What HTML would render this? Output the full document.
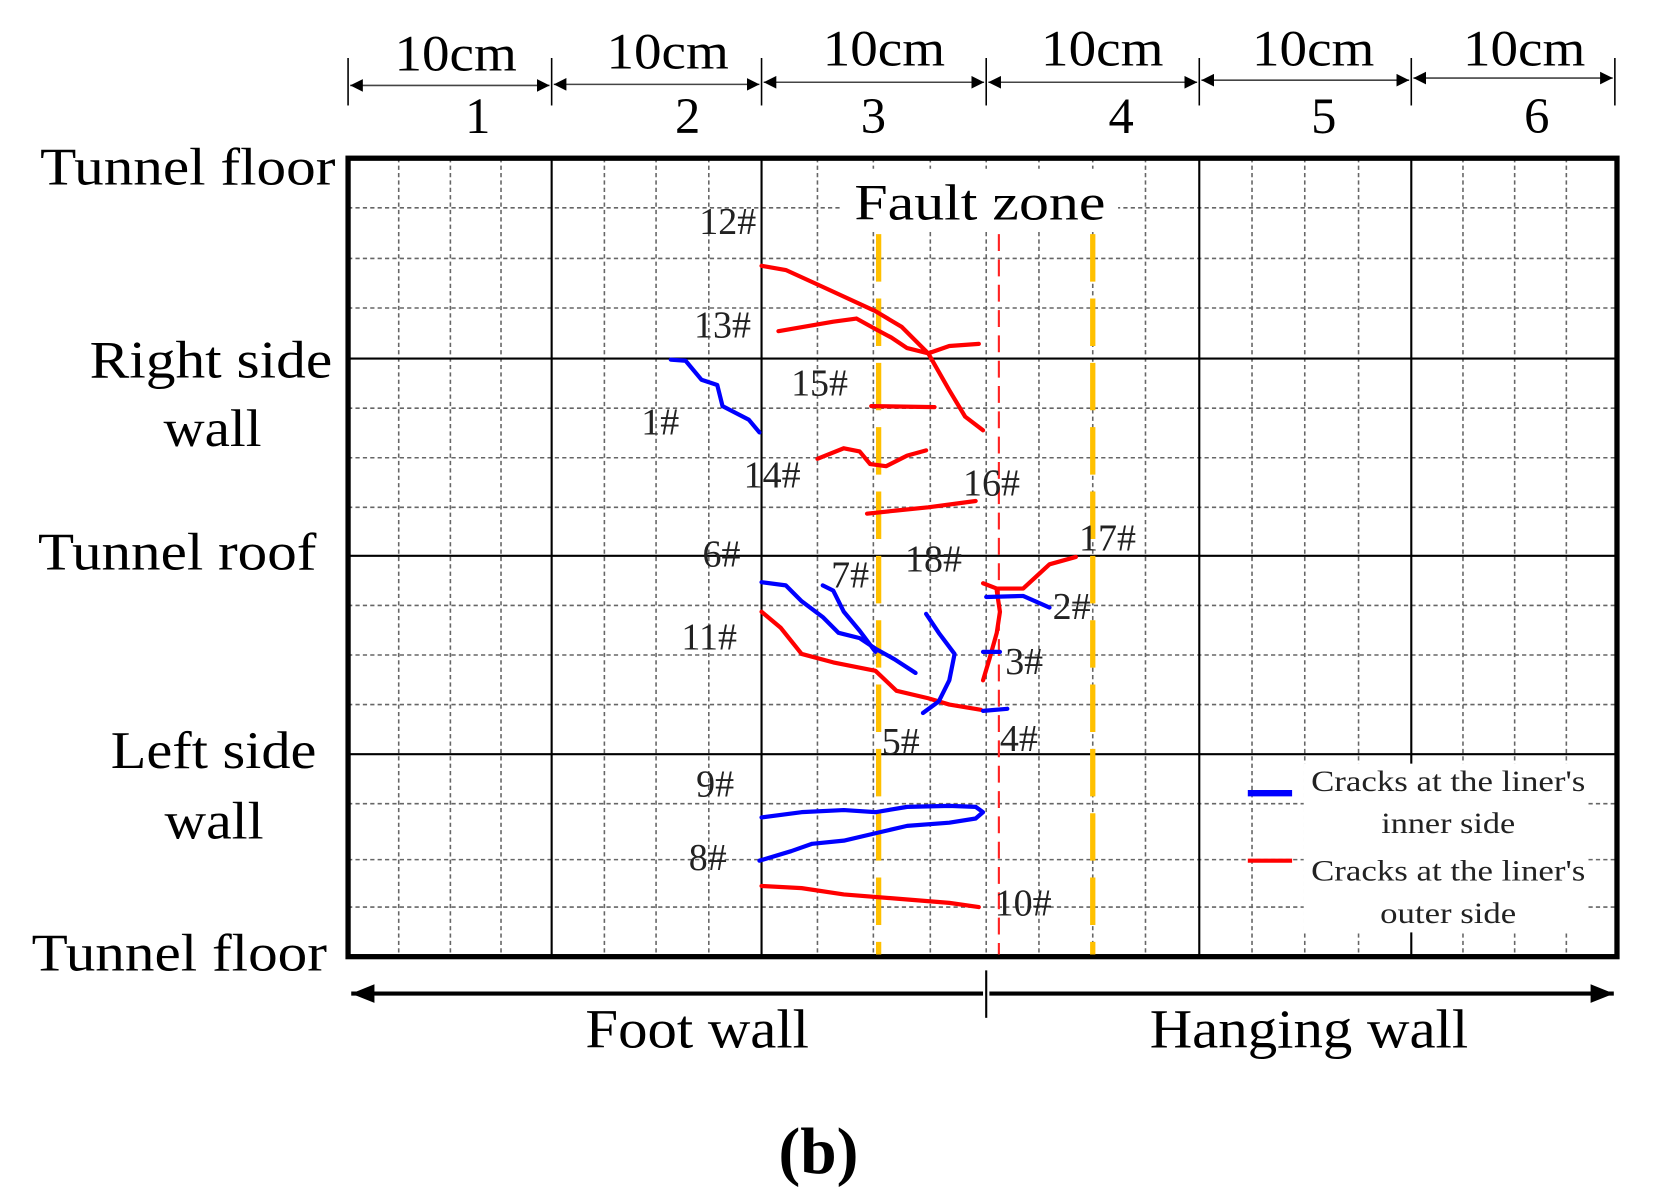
<!DOCTYPE html>
<html><head><meta charset="utf-8"><style>html,body{margin:0;padding:0;background:#fff}svg{display:block}</style></head>
<body>
<svg width="1656" height="1204" viewBox="0 0 1570 1141.5" preserveAspectRatio="none" xmlns="http://www.w3.org/2000/svg" font-family="'Liberation Serif', serif">
<defs>
<marker id="a" viewBox="0 0 10 10" refX="10" refY="5" markerWidth="12" markerHeight="12" markerUnits="userSpaceOnUse" orient="auto-start-reverse"><path d="M0,0L10,5L0,10z" fill="#000"/></marker>
<marker id="b" viewBox="0 0 10 10" refX="10" refY="5" markerWidth="22" markerHeight="22" markerUnits="userSpaceOnUse" orient="auto-start-reverse"><path d="M0,1L10,5L0,9z" fill="#000"/></marker>
</defs>
<g stroke="#000" stroke-width="1.5">
<line x1="330" y1="55" x2="330" y2="100"/><line x1="523" y1="55" x2="523" y2="100"/><line x1="722" y1="55" x2="722" y2="100"/><line x1="935" y1="55" x2="935" y2="100"/><line x1="1137" y1="55" x2="1137" y2="100"/><line x1="1338" y1="55" x2="1338" y2="100"/><line x1="1531" y1="55" x2="1531" y2="100"/>
</g>
<g stroke="#444" stroke-width="1.5" marker-start="url(#a)" marker-end="url(#a)">
<line x1="332" y1="81" x2="521" y2="81"/><line x1="525" y1="80" x2="720" y2="80"/><line x1="724" y1="78" x2="933" y2="78"/><line x1="937" y1="78" x2="1135" y2="78"/><line x1="1139" y1="76" x2="1336" y2="76"/><line x1="1340" y1="74" x2="1529" y2="74"/>
</g>
<g font-size="48" text-anchor="middle">
<text x="432" y="67" textLength="116" lengthAdjust="spacingAndGlyphs">10cm</text><text x="633" y="65" textLength="116" lengthAdjust="spacingAndGlyphs">10cm</text><text x="838" y="62" textLength="116" lengthAdjust="spacingAndGlyphs">10cm</text><text x="1045" y="62" textLength="116" lengthAdjust="spacingAndGlyphs">10cm</text><text x="1245" y="62" textLength="116" lengthAdjust="spacingAndGlyphs">10cm</text><text x="1445" y="62" textLength="116" lengthAdjust="spacingAndGlyphs">10cm</text>
<text x="453" y="126">1</text><text x="652" y="126">2</text><text x="828" y="126">3</text><text x="1063" y="126">4</text><text x="1255" y="126">5</text><text x="1457" y="126">6</text>
</g>
<g stroke="#666" stroke-width="1.5" stroke-dasharray="4 3">
<line x1="378" y1="150" x2="378" y2="907"/><line x1="427" y1="150" x2="427" y2="907"/><line x1="475" y1="150" x2="475" y2="907"/>
<line x1="573" y1="150" x2="573" y2="907"/><line x1="622" y1="150" x2="622" y2="907"/><line x1="672" y1="150" x2="672" y2="907"/>
<line x1="775" y1="150" x2="775" y2="907"/><line x1="828" y1="150" x2="828" y2="907"/><line x1="882" y1="150" x2="882" y2="907"/><line x1="935" y1="150" x2="935" y2="907"/>
<line x1="985" y1="150" x2="985" y2="907"/><line x1="1036" y1="150" x2="1036" y2="907"/><line x1="1086" y1="150" x2="1086" y2="907"/>
<line x1="1187" y1="150" x2="1187" y2="907"/><line x1="1237" y1="150" x2="1237" y2="907"/><line x1="1288" y1="150" x2="1288" y2="907"/>
<line x1="1387" y1="150" x2="1387" y2="907"/><line x1="1436" y1="150" x2="1436" y2="907"/><line x1="1485" y1="150" x2="1485" y2="907"/>
<line x1="330" y1="197" x2="1533" y2="197"/><line x1="330" y1="245" x2="1533" y2="245"/><line x1="330" y1="292" x2="1533" y2="292"/>
<line x1="330" y1="387" x2="1533" y2="387"/><line x1="330" y1="434" x2="1533" y2="434"/><line x1="330" y1="481" x2="1533" y2="481"/>
<line x1="330" y1="574" x2="1533" y2="574"/><line x1="330" y1="621" x2="1533" y2="621"/><line x1="330" y1="668" x2="1533" y2="668"/>
<line x1="330" y1="762" x2="1533" y2="762"/><line x1="330" y1="815" x2="1533" y2="815"/><line x1="330" y1="860" x2="1533" y2="860"/>
</g>
<g stroke="#000" stroke-width="2">
<line x1="523" y1="150" x2="523" y2="907"/><line x1="722" y1="150" x2="722" y2="907"/><line x1="1137" y1="150" x2="1137" y2="907"/><line x1="1338" y1="150" x2="1338" y2="907"/>
<line x1="330" y1="340" x2="1533" y2="340"/><line x1="330" y1="527" x2="1533" y2="527"/><line x1="330" y1="715" x2="1533" y2="715"/>
</g>
<rect x="798" y="160" width="262" height="58" fill="#fff"/>
<rect x="1236" y="724" width="268" height="160" fill="#fff"/>
<rect x="330" y="150" width="1203" height="757" fill="none" stroke="#000" stroke-width="5"/>
<g stroke="#FFC000" stroke-width="5" stroke-dasharray="45 16"><line x1="833" y1="222" x2="833" y2="905"/><line x1="1036" y1="222" x2="1036" y2="905"/></g>
<line x1="947" y1="222" x2="947" y2="905" stroke="#f22" stroke-width="2" stroke-dasharray="16 8"/>
<text x="929" y="208" font-size="48" text-anchor="middle" textLength="238" lengthAdjust="spacingAndGlyphs">Fault zone</text>
<g font-size="50">
<text x="38" y="175" textLength="280" lengthAdjust="spacingAndGlyphs">Tunnel floor</text>
<text x="85" y="358" textLength="230" lengthAdjust="spacingAndGlyphs">Right side</text><text x="155" y="423" textLength="93" lengthAdjust="spacingAndGlyphs">wall</text>
<text x="36" y="540" textLength="264" lengthAdjust="spacingAndGlyphs">Tunnel roof</text>
<text x="105" y="728" textLength="195" lengthAdjust="spacingAndGlyphs">Left side</text><text x="156" y="795" textLength="94" lengthAdjust="spacingAndGlyphs">wall</text>
<text x="30" y="920" textLength="280" lengthAdjust="spacingAndGlyphs">Tunnel floor</text>
</g>
<g fill="none" stroke-width="4" stroke-linejoin="round" stroke-linecap="round">
<g stroke="#f00">
<polyline points="722,252 745,256 780,272 830,295 855,310 880,335 900,370 915,395 932,408"/>
<polyline points="738,314 790,305 812,302 830,312 845,320 860,330 880,335 900,328 928,326"/>
<polyline points="826,385 886,386"/>
<polyline points="775,435 800,425 815,428 825,440 840,442 860,432 878,427"/>
<polyline points="822,487 850,484 880,481 925,475"/>
<polyline points="932,553 945,558 970,558 995,535 1020,528"/>
<polyline points="945,560 948,580 945,600 938,625 932,645"/>
<polyline points="722,580 740,595 760,620 790,628 830,636 850,655 880,662 900,668 930,673"/>
<polyline points="722,840 760,842 800,848 850,852 900,856 928,860"/>
</g>
<g stroke="#00f">
<polyline points="636,341 650,342 665,360 680,365 685,385 710,398 720,410"/>
<polyline points="935,566 970,565 995,576"/>
<polyline points="932,618 948,618"/>
<polyline points="932,674 955,672"/>
<polyline points="722,552 745,555 760,570 780,585 795,600 815,605 830,615 848,625 868,638"/>
<polyline points="780,555 790,560 800,580 815,598 830,618"/>
<polyline points="878,582 890,600 905,620 900,645 890,665 875,676"/>
<polyline points="722,775 760,770 800,768 830,770 860,765 900,764 925,765 932,770 925,776 900,780 860,783 830,790 800,797 770,800 750,807 720,816"/>
</g>
</g>
<g font-size="36" fill="#222">
<text x="663" y="222">12#</text><text x="658" y="320">13#</text><text x="750" y="375">15#</text><text x="608" y="412">1#</text>
<text x="705" y="462">14#</text><text x="913" y="470">16#</text><text x="1023" y="522">17#</text><text x="858" y="542">18#</text>
<text x="666" y="537">6#</text><text x="788" y="557">7#</text><text x="998" y="587">2#</text><text x="646" y="616">11#</text>
<text x="953" y="639">3#</text><text x="836" y="715">5#</text><text x="948" y="712">4#</text><text x="660" y="755">9#</text>
<text x="653" y="825">8#</text><text x="943" y="868">10#</text>
</g>
<line x1="1183" y1="752" x2="1225" y2="752" stroke="#00f" stroke-width="6"/>
<line x1="1183" y1="816" x2="1225" y2="816" stroke="#f00" stroke-width="4"/>
<g font-size="28" text-anchor="middle" fill="#222">
<text x="1373" y="750" textLength="260" lengthAdjust="spacingAndGlyphs">Cracks at the liner's</text><text x="1373" y="790" textLength="127" lengthAdjust="spacingAndGlyphs">inner side</text>
<text x="1373" y="835" textLength="260" lengthAdjust="spacingAndGlyphs">Cracks at the liner's</text><text x="1373" y="875" textLength="129" lengthAdjust="spacingAndGlyphs">outer side</text>
</g>
<line x1="333" y1="942" x2="932" y2="942" stroke="#000" stroke-width="4" marker-start="url(#b)"/>
<line x1="938" y1="942" x2="1530" y2="942" stroke="#000" stroke-width="4" marker-end="url(#b)"/>
<line x1="935" y1="920" x2="935" y2="965" stroke="#000" stroke-width="2"/>
<g font-size="52">
<text x="555" y="993" textLength="212" lengthAdjust="spacingAndGlyphs">Foot wall</text><text x="1090" y="993" textLength="302" lengthAdjust="spacingAndGlyphs">Hanging wall</text>
<text x="776" y="1112" font-size="62" font-weight="bold" text-anchor="middle">(b)</text>
</g>
</svg>
</body></html>
